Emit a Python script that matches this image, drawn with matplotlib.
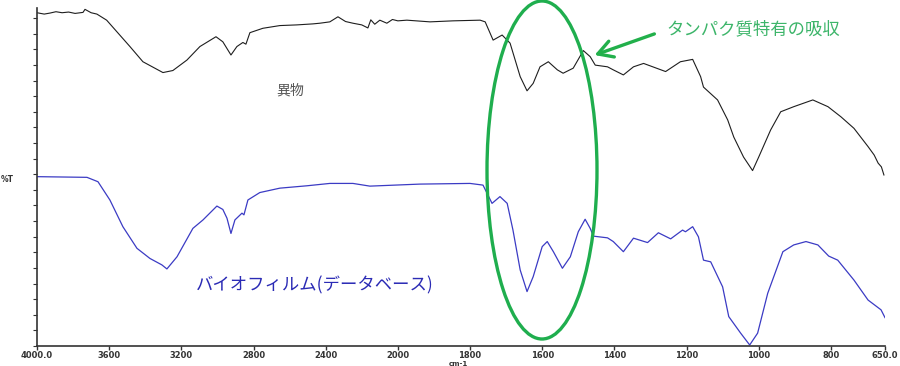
import numpy as np
import matplotlib
matplotlib.use("Agg")
import matplotlib.pyplot as plt
from matplotlib.patches import Ellipse, FancyArrowPatch
from matplotlib.ticker import FixedLocator

plt.rcParams['font.family'] = ['Noto Sans CJK JP', 'DejaVu Sans']

# --- data: wavenumber (cm-1) and %T (arbitrary offset scale) ---
foreign_wn = [4000, 3960, 3928, 3895, 3861, 3825, 3789, 3745, 3734, 3700, 3668, 3614, 3485, 3413,
              3302, 3247, 3169, 3097, 3008, 2970, 2925, 2892, 2859, 2842, 2820, 2748, 2654,
              2560, 2471, 2432, 2377, 2332, 2290, 2249, 2200, 2166, 2150, 2128, 2100, 2061,
              2030, 2000, 1975, 1911, 1847, 1772, 1758, 1736, 1711, 1689, 1661, 1642, 1625,
              1606, 1583, 1558, 1542, 1514, 1486, 1467, 1453, 1419, 1403, 1375, 1347, 1319,
              1258, 1217, 1183, 1161, 1153, 1114, 1086, 1069, 1042, 1017, 1000, 967, 939,
              903, 850, 808, 772, 736, 697, 680, 669, 660, 653]
foreign_t = [98.6, 98.2, 98.5, 98.9, 98.6, 98.8, 98.4, 98.7, 99.6, 98.6, 98.2, 96.4, 88.6, 84.1,
             80.9, 81.5, 84.6, 88.6, 91.5, 90.0, 86.1, 88.6, 89.8, 89.3, 92.7, 94.0, 94.8,
             95.0, 95.3, 95.5, 95.9, 97.4, 96.0, 95.5, 95.0, 94.1, 96.5, 95.2, 96.4, 95.5,
             96.6, 96.2, 96.4, 95.9, 96.2, 96.4, 95.9, 90.5, 92.0, 89.6, 79.7, 75.5, 77.7,
             82.6, 84.1, 81.7, 80.7, 82.2, 87.4, 85.6, 83.1, 82.6, 81.7, 80.2, 82.6, 83.6,
             81.2, 84.1, 84.8, 79.7, 76.6, 72.8, 66.9, 61.8, 55.9, 51.9, 55.9, 63.9, 69.3,
             70.8, 72.8, 70.8, 67.8, 64.4, 59.0, 56.5, 54.1, 53.0, 50.6]

biofilm_wn = [4000, 3723, 3662, 3596, 3524, 3446, 3374, 3308, 3280, 3224, 3136, 3080, 3003,
              2970, 2947, 2925, 2903, 2864, 2853, 2831, 2765, 2654, 2504, 2377, 2249, 2155,
              1939, 1800, 1764, 1739, 1717, 1697, 1681, 1661, 1642, 1625, 1600, 1586, 1569,
              1544, 1522, 1500, 1481, 1467, 1458, 1419, 1403, 1375, 1347, 1308, 1278, 1244,
              1211, 1203, 1183, 1167, 1153, 1133, 1100, 1083, 1050, 1025, 1003, 975, 933,
              903, 869, 836, 806, 781, 736, 697, 661, 650]
biofilm_t = [50.1, 49.9, 48.6, 43.2, 35.3, 28.9, 25.9, 24.0, 22.8, 26.4, 34.8, 37.3, 41.4,
             40.4, 37.8, 33.3, 37.3, 39.3, 38.8, 43.2, 45.4, 46.7, 47.4, 48.1, 48.1, 47.3,
             47.9, 48.1, 47.6, 42.2, 44.2, 42.2, 34.3, 22.5, 16.1, 20.5, 29.4, 30.9, 27.9,
             23.0, 26.4, 33.8, 37.5, 34.8, 32.5, 32.0, 30.9, 27.9, 31.9, 30.6, 33.5, 31.7,
             34.3, 33.8, 35.3, 32.3, 25.4, 24.9, 17.5, 8.7, 3.8, 0.3, 3.8, 15.6, 27.9,
             29.9, 30.9, 29.9, 26.6, 25.4, 19.5, 13.6, 10.7, 8.4]

xtick_vals = [4000, 3600, 3200, 2800, 2400, 2000, 1800, 1600, 1400, 1200, 1000, 800, 650]
xtick_labels = ['4000.0', '3600', '3200', '2800', '2400', '2000', '1800', '1600', '1400',
                '1200', '1000', '800', '650.0']

label_foreign = '異物'
label_biofilm = 'バイオフィルム(データベース)'
label_protein = 'タンパク質特有の吸収'


def fwd(w):
    w = np.asarray(w, dtype=float)
    return np.where(w > 2000, 2000 + (w - 2000) / 2.0, w)


def inv(u):
    u = np.asarray(u, dtype=float)
    return np.where(u > 2000, 2000 + (u - 2000) * 2.0, u)


fig = plt.figure(figsize=(9.0, 3.66), dpi=100)
ax = fig.add_axes([37 / 900, 20 / 366, 848 / 900, 338 / 366])
ax.set_xscale('function', functions=(fwd, inv))
ax.set_xlim(4000, 650)
ax.set_ylim(0, 100)

ax.plot(foreign_wn, foreign_t, color='#1e1e1e', lw=0.8)
ax.plot(biofilm_wn, biofilm_t, color='#3b3bc4', lw=0.9)

for s in ['top', 'right']:
    ax.spines[s].set_visible(False)
for s in ['left', 'bottom']:
    ax.spines[s].set_color('#333333')
    ax.spines[s].set_linewidth(1.2)

ax.xaxis.set_major_locator(FixedLocator(xtick_vals))
ax.set_xticklabels(xtick_labels)
ax.xaxis.set_minor_locator(FixedLocator([]))
ax.tick_params(axis='x', length=3, width=1, colors='#333333', labelsize=6, pad=0.5)
ax.set_yticks(np.arange(0, 100, 4.62))
ax.set_yticklabels([])
ax.tick_params(axis='y', length=3, width=0.8, colors='#333333')
for lab in ax.get_xticklabels():
    lab.set_fontweight('bold')
    lab.set_family(['DejaVu Sans'])

fig.text(449 / 900, 1 - 364 / 366, 'cm-1', fontsize=5, color='#333333',
         va='center', ha='left', family=['DejaVu Sans'], fontweight='bold')
fig.text(1 / 900, 1 - 180 / 366, '%T', fontsize=5.5, color='#333333',
         va='center', ha='left', family=['DejaVu Sans'], fontweight='bold')

fig.text(290 / 900, 1 - 91 / 366, label_foreign, fontsize=10, color='#555555',
         ha='center', va='center')
fig.text(315 / 900, 1 - 285 / 366, label_biofilm, fontsize=12.5, color='#2b2bb5',
         ha='center', va='center')
fig.text(753 / 900, 1 - 29 / 366, label_protein, fontsize=12.5, color='#3db56a',
         ha='center', va='center')

ell = Ellipse((542 / 900, 1 - 170 / 366), 110 / 900, 338 / 366, transform=fig.transFigure,
              fill=False, edgecolor='#1fae4e', lw=2.4, clip_on=False)
fig.add_artist(ell)

arr = FancyArrowPatch((657 / 900, 1 - 33 / 366), (592 / 900, 1 - 56 / 366),
                      transform=fig.transFigure, arrowstyle='->,head_length=7,head_width=4',
                      color='#22b04b', lw=2.4, mutation_scale=1.5)
fig.add_artist(arr)

fig.savefig('out.png', dpi=100)
